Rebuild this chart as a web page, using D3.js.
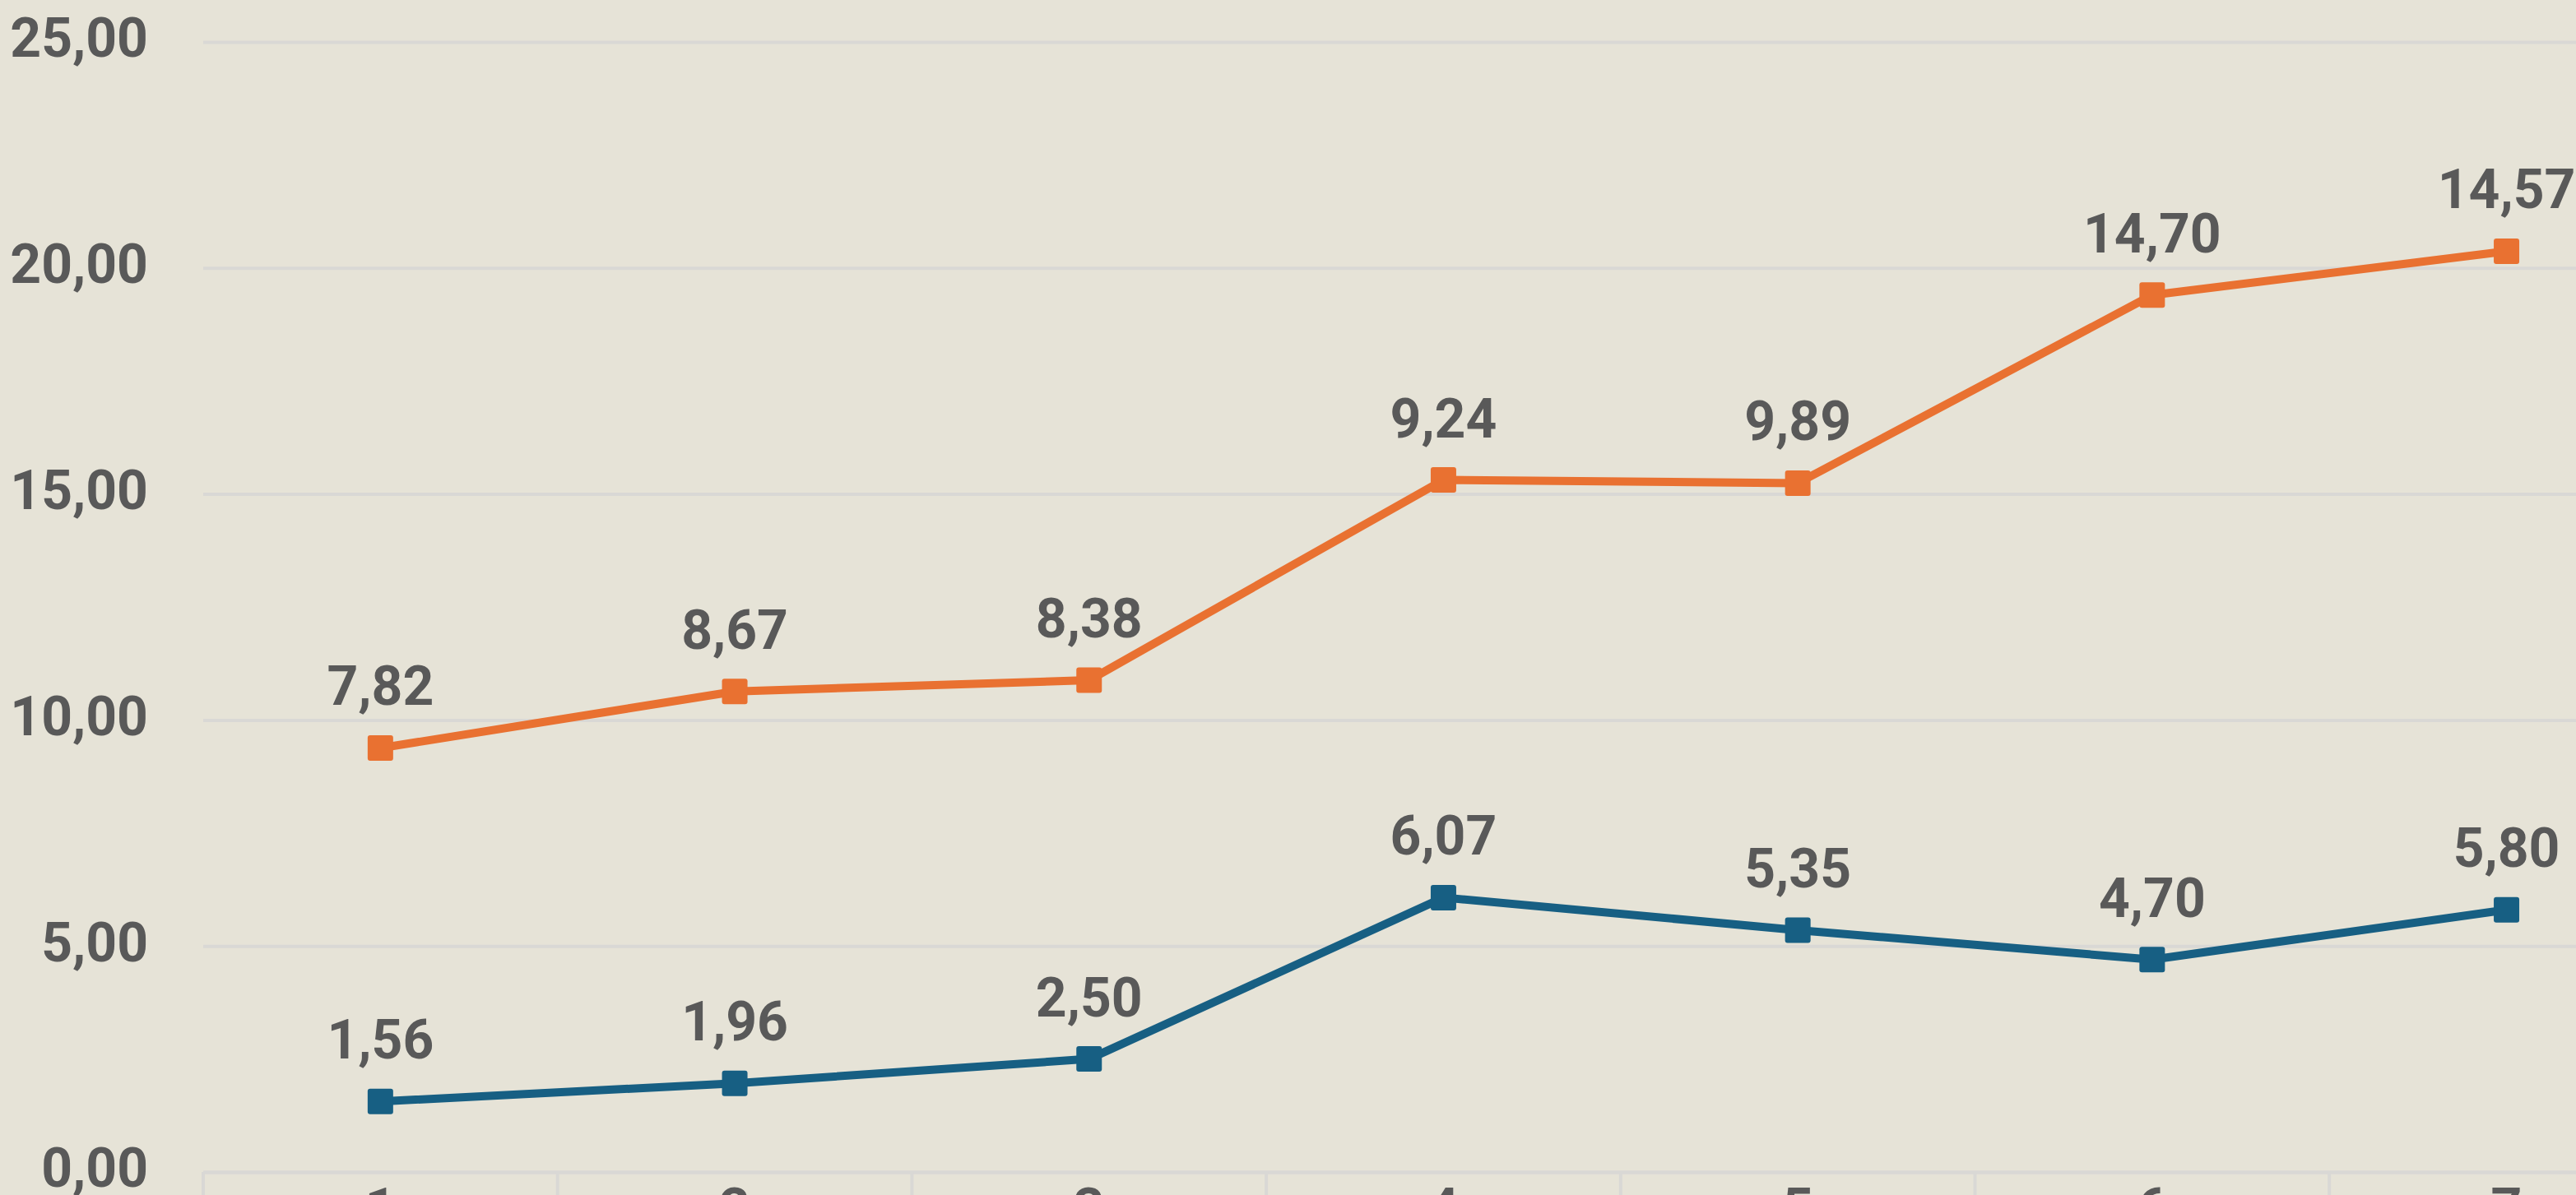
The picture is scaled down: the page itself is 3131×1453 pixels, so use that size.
<!DOCTYPE html>
<html>
<head>
<meta charset="utf-8">
<script src="https://cdn.jsdelivr.net/npm/d3@7"></script>
<style>
  html, body { margin: 0; padding: 0; background: #E6E3D7; overflow: hidden; }
  svg { display: block; }
  text { font-family: Roboto, "Noto Sans", sans-serif; font-weight: 700; fill: #595959; }
</style>
</head>
<body>
<svg id="chart" width="3131" height="1453"></svg>
<script>
const categories = ["1", "2", "3", "4", "5", "6", "7"];
const seriesBlue = [1.56, 1.96, 2.50, 6.07, 5.35, 4.70, 5.80];
const seriesOrange = [7.82, 8.67, 8.38, 9.24, 9.89, 14.70, 14.57];
const yTicks = [0, 5, 10, 15, 20, 25];

const W = 3131, H = 1453;
const left = 247, y0 = 1425, yTop = 51, step = 430.7;
const bg = "#E6E3D7", grid = "#D9D8D5", blue = "#175F83", orange = "#E97131";
const fontSize = 66;

const svg = d3.select("#chart");
svg.append("rect").attr("width", W).attr("height", H).attr("fill", bg);

const locale = d3.formatLocale({decimal: ",", thousands: ".", grouping: [3], currency: ["", ""]});
const fmt = locale.format(".2f");

const x = d3.scaleBand().domain(categories).range([left, left + step * categories.length]).paddingInner(0).paddingOuter(0);
const y = d3.scaleLinear().domain([0, 25]).range([y0, yTop]);

// Gridlines + y labels
const yAxis = svg.append("g").attr("transform", `translate(${left},0)`)
  .call(d3.axisLeft(y).tickValues(yTicks).tickFormat(fmt).tickSize(-(W - left)).tickPadding(67));
yAxis.select(".domain").remove();
yAxis.selectAll(".tick line").attr("stroke", grid).attr("stroke-width", 4);
yAxis.selectAll(".tick text").attr("font-size", fontSize).attr("dy", "0.27em").style("font-family", "Roboto").style("font-weight", 700).attr("fill", "#595959");

// x axis
const xAxis = svg.append("g").attr("transform", `translate(0,${y0})`)
  .call(d3.axisBottom(x).tickSize(0).tickPadding(20));
xAxis.select(".domain").attr("stroke", grid).attr("stroke-width", 4);
xAxis.selectAll(".tick text").attr("font-size", fontSize).style("font-family", "Roboto").style("font-weight", 700).attr("fill", "#595959");
const bounds = categories.map(c => x(c)).concat([x(categories[categories.length - 1]) + x.bandwidth()]);
xAxis.selectAll(".bound").data(bounds).enter().append("line")
  .attr("x1", d => d).attr("x2", d => d).attr("y1", 0).attr("y2", 60)
  .attr("stroke", grid).attr("stroke-width", 4);

const cx = c => x(c) + x.bandwidth() / 2;
const stackedOrange = seriesOrange.map((v, i) => v + seriesBlue[i]);

function drawSeries(vals, labels, color) {
  const pts = categories.map((c, i) => [cx(c), y(vals[i])]);
  svg.append("path").attr("d", d3.line()(pts)).attr("fill", "none")
    .attr("stroke", color).attr("stroke-width", 10).attr("stroke-linejoin", "round");
  svg.append("g").selectAll("rect").data(pts).enter().append("rect")
    .attr("x", d => d[0] - 15.5).attr("y", d => d[1] - 15.5)
    .attr("width", 31).attr("height", 31).attr("rx", 3).attr("fill", color);
  svg.append("g").selectAll("text").data(pts).enter().append("text")
    .attr("x", d => d[0]).attr("y", d => d[1] - 52)
    .attr("text-anchor", "middle").attr("font-size", fontSize)
    .text((d, i) => fmt(labels[i]));
}
drawSeries(seriesBlue, seriesBlue, blue);
drawSeries(stackedOrange, seriesOrange, orange);
</script>
</body>
</html>
